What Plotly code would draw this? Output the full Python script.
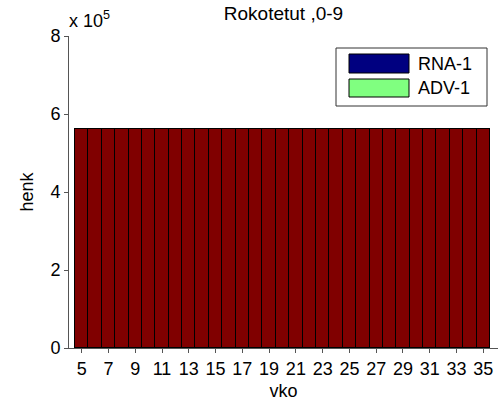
import plotly.graph_objects as go

weeks = list(range(5, 36))
rna1 = [0] * 31
adv1 = [0] * 31
total = [562000] * 31
series_names = ["RNA-1", "ADV-1", ""]
series_colors = ["#000080", "#80ff80", "#800000"]
y_tickvals = [0, 200000, 400000, 600000, 800000]
y_ticktext = ["0", "2", "4", "6", "8"]
x_tickvals = list(range(5, 36, 2))

FONT = "Liberation Sans, Arial, sans-serif"
fig = go.Figure()
for name, vals, col in zip(series_names, [rna1, adv1, total], series_colors):
    fig.add_trace(go.Bar(x=weeks, y=vals, name=name, marker=dict(color=col, line=dict(color="#000000", width=1)),
                         width=1, showlegend=False))

W, H = 500, 412
L, R, T, B = 69, 498, 36, 348


def px(x):
    return (x - L) / (R - L)


def py(y):
    return (B - y) / (B - T)


shapes = [dict(type="rect", xref="paper", yref="paper", x0=px(336), x1=px(487), y0=py(106), y1=py(48),
               line=dict(color="#333333", width=1), fillcolor="white")]
annotations = []
rows = [(54, 73), (79, 97)]
for (y0, y1), name, col in zip(rows, series_names[:2], series_colors[:2]):
    shapes.append(dict(type="rect", xref="paper", yref="paper", x0=px(349), x1=px(409), y0=py(y1), y1=py(y0),
                       line=dict(color="#000000", width=1), fillcolor=col))
    annotations.append(dict(xref="paper", yref="paper", x=px(416), y=py((y0 + y1) / 2), text=name, showarrow=False,
                            xanchor="left", yanchor="middle", font=dict(family=FONT, size=18, color="black")))

annotations.append(dict(xref="paper", yref="paper", x=px(67), y=py(20), text="x 10<sup>5</sup>", showarrow=False,
                        xanchor="left", yanchor="middle", font=dict(family=FONT, size=18, color="black")))

fig.update_layout(
    width=W, height=H,
    margin=dict(l=L, r=W - R, t=T, b=H - B),
    paper_bgcolor="white", plot_bgcolor="white",
    barmode="stack", bargap=0,
    font=dict(family=FONT, size=18, color="black"),
    title=dict(text="Rokotetut ,0-9", x=px((L + R) / 2), xref="paper", y=1 - 13 / H, yanchor="middle",
               xanchor="center", font=dict(family=FONT, size=19, color="black")),
    shapes=shapes, annotations=annotations,
    xaxis=dict(range=[4.05, 36.1], tickvals=x_tickvals, ticks="outside", ticklen=4, tickcolor="#555555",
               showline=True, linecolor="#555555", linewidth=1, showgrid=False, zeroline=False,
               automargin=False,
               title=dict(text="vko", standoff=6, font=dict(family=FONT, size=18)),
               tickfont=dict(family=FONT, size=18)),
    yaxis=dict(range=[0, 800000], tickvals=y_tickvals, ticktext=y_ticktext, ticks="outside", ticklen=4,
               tickcolor="#555555", showline=True, linecolor="#555555", linewidth=1, showgrid=False,
               zeroline=False, automargin=False,
               title=dict(text="henk", standoff=12, font=dict(family=FONT, size=18)),
               tickfont=dict(family=FONT, size=18)),
)
fig.write_html("out.html", config={"displayModeBar": False},
               post_script="document.body.style.margin='0';")
